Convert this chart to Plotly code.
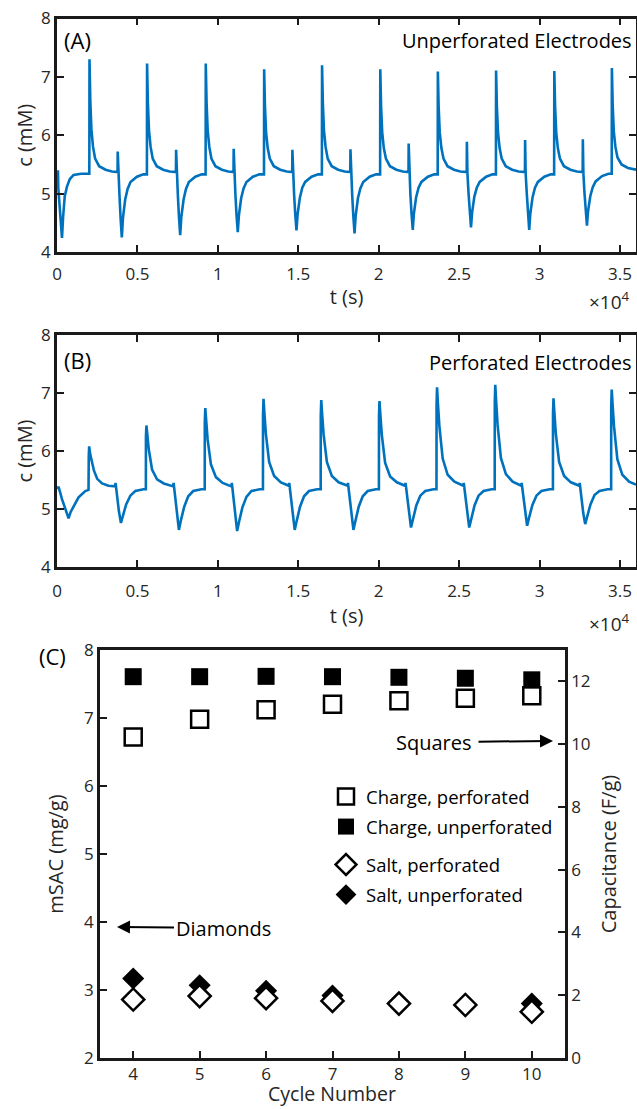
import plotly.graph_objects as go

W, H = 637, 1109
def fx(p): return p / W
def fy(p): return 1 - p / H

FONT = "Open Sans"
BLUE = "#0072BD"
AX = "#1a1a1a"
TXT = "#262626"

# ---------------- Panel A: unperforated electrodes (t in s, c in mM) ----------------
t_A = [0, 60, 80, 200, 310, 380, 480, 620, 800, 1030, 1500, 2010,
       2020, 2070, 2140, 2240, 2370, 2620, 3020, 3420, 3765, 3775, 3810, 3880, 3950, 4030, 4100, 4240, 4390, 4570, 4970, 5370, 5590,
       5600, 5650, 5720, 5820, 5950, 6200, 6600, 7000, 7395, 7405, 7440, 7510, 7580, 7660, 7730, 7870, 8020, 8200, 8600, 9000, 9240,
       9250, 9300, 9370, 9470, 9600, 9850, 10250, 10650, 10975, 10985, 11020, 11090, 11160, 11240, 11310, 11450, 11600, 11780, 12180, 12580, 12870,
       12880, 12930, 13000, 13100, 13230, 13480, 13880, 14280, 14625, 14635, 14670, 14740, 14810, 14890, 14960, 15100, 15250, 15430, 15830, 16230, 16470,
       16480, 16530, 16600, 16700, 16830, 17080, 17480, 17880, 18235, 18245, 18280, 18350, 18420, 18500, 18570, 18710, 18860, 19040, 19440, 19840, 20090,
       20100, 20150, 20220, 20320, 20450, 20700, 21100, 21500, 21855, 21865, 21900, 21970, 22040, 22120, 22190, 22330, 22480, 22660, 23060, 23460, 23670,
       23680, 23730, 23800, 23900, 24030, 24280, 24680, 25080, 25475, 25485, 25520, 25590, 25660, 25740, 25810, 25950, 26100, 26280, 26680, 27080, 27290,
       27300, 27350, 27420, 27520, 27650, 27900, 28300, 28700, 29095, 29105, 29140, 29210, 29280, 29360, 29430, 29570, 29720, 29900, 30300, 30700, 30910,
       30920, 30970, 31040, 31140, 31270, 31520, 31920, 32320, 32685, 32695, 32730, 32800, 32870, 32950, 33020, 33160, 33310, 33490, 33890, 34290, 34490,
       34500, 34550, 34620, 34720, 34850, 35100, 35500, 36000]
c_A = [5.38, 5.38, 5.10, 4.60, 4.24, 4.60, 4.95, 5.12, 5.25, 5.32, 5.34, 5.34,
       7.30, 6.60, 6.10, 5.80, 5.60, 5.47, 5.41, 5.38, 5.37, 5.72, 5.32, 5.00, 4.60, 4.25, 4.58, 4.90, 5.08, 5.20, 5.29, 5.33, 5.33,
       7.23, 6.56, 6.08, 5.80, 5.60, 5.47, 5.41, 5.38, 5.37, 5.75, 5.32, 5.00, 4.62, 4.29, 4.60, 4.90, 5.08, 5.20, 5.29, 5.33, 5.33,
       7.23, 6.56, 6.08, 5.80, 5.60, 5.47, 5.41, 5.38, 5.37, 5.77, 5.32, 5.00, 4.64, 4.34, 4.63, 4.92, 5.09, 5.20, 5.29, 5.33, 5.33,
       7.13, 6.50, 6.05, 5.78, 5.60, 5.47, 5.41, 5.38, 5.37, 5.75, 5.32, 5.00, 4.66, 4.37, 4.65, 4.93, 5.10, 5.20, 5.29, 5.33, 5.33,
       7.20, 6.55, 6.08, 5.80, 5.60, 5.47, 5.41, 5.38, 5.37, 5.76, 5.32, 5.00, 4.63, 4.32, 4.62, 4.92, 5.09, 5.20, 5.29, 5.33, 5.33,
       7.13, 6.50, 6.05, 5.78, 5.60, 5.47, 5.41, 5.38, 5.37, 5.86, 5.34, 5.00, 4.67, 4.38, 4.66, 4.94, 5.10, 5.20, 5.29, 5.33, 5.33,
       7.09, 6.48, 6.04, 5.78, 5.60, 5.47, 5.41, 5.38, 5.37, 5.89, 5.34, 5.00, 4.69, 4.42, 4.68, 4.95, 5.10, 5.20, 5.29, 5.33, 5.33,
       7.11, 6.49, 6.05, 5.78, 5.60, 5.47, 5.41, 5.38, 5.37, 5.92, 5.34, 5.00, 4.67, 4.38, 4.66, 4.94, 5.10, 5.20, 5.29, 5.33, 5.33,
       7.10, 6.49, 6.05, 5.78, 5.60, 5.47, 5.41, 5.38, 5.37, 5.93, 5.34, 5.00, 4.70, 4.45, 4.70, 4.96, 5.11, 5.21, 5.30, 5.34, 5.34,
       7.15, 6.52, 6.06, 5.80, 5.62, 5.50, 5.44, 5.41]

# ---------------- Panel B: perforated electrodes ----------------
t_B = [0, 100, 310, 500, 620, 720, 850, 1030, 1340, 1760, 1960,
       1975, 2000, 2060, 2150, 2300, 2500, 2800, 3200, 3620, 3640, 3730, 3850, 3975, 4100, 4300, 4560, 4870, 5380, 5525,
       5530, 5560, 5610, 5705, 5910, 6220, 6640, 7230, 7250, 7340, 7460, 7580, 7700, 7910, 8160, 8470, 8980, 9185,
       9190, 9220, 9270, 9365, 9570, 9880, 10300, 10850, 10870, 10960, 11080, 11200, 11320, 11530, 11780, 12090, 12600, 12805,
       12810, 12840, 12890, 12985, 13190, 13500, 13920, 14420, 14440, 14530, 14660, 14780, 14900, 15110, 15360, 15670, 16180, 16395,
       16400, 16430, 16480, 16575, 16780, 17090, 17510, 18070, 18090, 18180, 18310, 18430, 18550, 18760, 19010, 19320, 19830, 20015,
       20020, 20050, 20100, 20195, 20400, 20710, 21130, 21650, 21670, 21760, 21890, 22010, 22130, 22340, 22590, 22900, 23410, 23595,
       23600, 23630, 23680, 23775, 23980, 24290, 24710, 25270, 25290, 25380, 25510, 25630, 25750, 25960, 26210, 26520, 27030, 27215,
       27220, 27250, 27300, 27395, 27600, 27910, 28330, 28870, 28890, 28980, 29110, 29230, 29350, 29560, 29810, 30120, 30630, 30835,
       30840, 30870, 30920, 31015, 31220, 31530, 31950, 32480, 32500, 32590, 32720, 32840, 32960, 33170, 33420, 33730, 34240, 34455,
       34460, 34490, 34540, 34635, 34840, 35150, 35570, 36000]
c_B = [5.35, 5.38, 5.17, 5.00, 4.92, 4.84, 4.95, 5.05, 5.20, 5.31, 5.33,
       5.90, 6.08, 5.95, 5.84, 5.66, 5.52, 5.44, 5.40, 5.39, 5.45, 5.22, 4.96, 4.76, 4.89, 5.08, 5.23, 5.31, 5.34, 5.34,
       6.25, 6.44, 6.30, 6.03, 5.68, 5.51, 5.44, 5.39, 5.45, 5.22, 4.90, 4.64, 4.80, 5.04, 5.22, 5.31, 5.34, 5.34,
       6.50, 6.74, 6.55, 6.20, 5.77, 5.55, 5.45, 5.39, 5.45, 5.21, 4.88, 4.62, 4.78, 5.03, 5.21, 5.31, 5.34, 5.34,
       6.63, 6.90, 6.68, 6.30, 5.81, 5.57, 5.46, 5.40, 5.45, 5.22, 4.89, 4.64, 4.79, 5.04, 5.22, 5.31, 5.34, 5.34,
       6.61, 6.88, 6.66, 6.29, 5.81, 5.57, 5.46, 5.40, 5.45, 5.22, 4.89, 4.64, 4.79, 5.04, 5.22, 5.31, 5.34, 5.34,
       6.60, 6.86, 6.65, 6.28, 5.80, 5.56, 5.46, 5.40, 5.45, 5.23, 4.91, 4.68, 4.82, 5.06, 5.23, 5.31, 5.34, 5.34,
       6.80, 7.10, 6.84, 6.43, 5.87, 5.59, 5.47, 5.40, 5.45, 5.23, 4.91, 4.68, 4.82, 5.06, 5.23, 5.31, 5.34, 5.34,
       6.84, 7.14, 6.88, 6.45, 5.88, 5.60, 5.47, 5.40, 5.45, 5.23, 4.92, 4.71, 4.85, 5.07, 5.23, 5.31, 5.34, 5.34,
       6.64, 6.91, 6.69, 6.30, 5.81, 5.57, 5.46, 5.40, 5.45, 5.23, 4.93, 4.74, 4.88, 5.08, 5.24, 5.31, 5.34, 5.34,
       6.77, 7.06, 6.82, 6.42, 5.86, 5.59, 5.47, 5.42]

# ---------------- Panel C ----------------
cycles = [4, 5, 6, 7, 8, 9, 10]
cap_perf = [10.23, 10.79, 11.10, 11.27, 11.38, 11.46, 11.54]      # F/g, right axis
cap_unperf = [12.15, 12.15, 12.16, 12.15, 12.13, 12.10, 12.05]    # F/g, right axis
salt_perf = [2.86, 2.91, 2.88, 2.84, 2.80, 2.78, 2.68]            # mg/g, left axis
salt_unperf = [3.17, 3.07, 2.99, 2.92, 2.81, 2.78, 2.80]          # mg/g, left axis

t_tickvals = [0, 5000, 10000, 15000, 20000, 25000, 30000, 35000]
t_ticktext = ["0", "0.5", "1", "1.5", "2", "2.5", "3", "3.5"]

fig = go.Figure()
fig.add_trace(go.Scatter(x=t_A, y=c_A, mode="lines", line=dict(color=BLUE, width=2.6),
                         xaxis="x", yaxis="y", showlegend=False))
fig.add_trace(go.Scatter(x=t_B, y=c_B, mode="lines", line=dict(color=BLUE, width=2.6),
                         xaxis="x2", yaxis="y2", showlegend=False))

fig.add_trace(go.Scatter(x=cycles, y=cap_perf, mode="markers", name="Charge, perforated",
                         marker=dict(symbol="square-open", size=17, color="black", line=dict(width=2.5, color="black")),
                         xaxis="x3", yaxis="y4", legend="legend", legendgroup="a"))
fig.add_trace(go.Scatter(x=cycles, y=cap_unperf, mode="markers", name="Charge, unperforated",
                         marker=dict(symbol="square", size=17, color="black", line=dict(width=0)),
                         xaxis="x3", yaxis="y4", legend="legend", legendgroup="b"))
fig.add_trace(go.Scatter(x=cycles, y=salt_unperf, mode="markers", name="Salt, unperforated",
                         marker=dict(symbol="diamond", size=17, color="black", line=dict(width=0)),
                         xaxis="x3", yaxis="y3", legend="legend2", legendgroup="d", legendrank=2))
fig.add_trace(go.Scatter(x=cycles, y=salt_perf, mode="markers", name="Salt, perforated",
                         marker=dict(symbol="diamond", size=17, color="white", line=dict(width=2.5, color="black")),
                         xaxis="x3", yaxis="y3", legend="legend2", legendgroup="c", legendrank=1))

tickfont = dict(family=FONT, size=17, color=TXT)
titlefont = dict(family=FONT, size=20, color=TXT)

def xax(domain, anchor, rng, **kw):
    d = dict(domain=domain, anchor=anchor, range=rng, showline=True, linecolor=AX, linewidth=2.5,
             ticks="inside", ticklen=7, tickwidth=2, tickcolor=AX, tickfont=tickfont,
             showgrid=False, zeroline=False, automargin=False)
    d.update(kw)
    return d

xdomAB = [fx(57), fx(636)]
fig.update_layout(
    width=W, height=H, margin=dict(l=0, r=0, t=0, b=0, autoexpand=False),
    paper_bgcolor="white", plot_bgcolor="white",
    xaxis=xax(xdomAB, "y", [0, 36000], tickvals=t_tickvals, ticktext=t_ticktext, mirror="ticks",
              ticklabelstandoff=5, title=dict(text="t (s)", font=titlefont, standoff=6)),
    yaxis=xax([fy(252), fy(18.5)], "x", [4, 8], tickvals=[4, 5, 6, 7, 8], mirror="ticks",
              title=dict(text="c (mM)", font=titlefont, standoff=4)),
    xaxis2=xax(xdomAB, "y2", [0, 36000], tickvals=t_tickvals, ticktext=t_ticktext, mirror="ticks",
               ticklabelstandoff=7, title=dict(text="t (s)", font=titlefont, standoff=8)),
    yaxis2=xax([fy(567), fy(335)], "x2", [4, 8], tickvals=[4, 5, 6, 7, 8], mirror="ticks",
               title=dict(text="c (mM)", font=titlefont, standoff=4)),
    xaxis3=xax([fx(100), fx(565)], "y3", [3.5, 10.5], tickvals=cycles, mirror=True,
               ticklabelstandoff=-1),
    yaxis3=xax([fy(1058), fy(650)], "x3", [2, 8], tickvals=[2, 3, 4, 5, 6, 7, 8],
               title=dict(text="mSAC (mg/g)", font=titlefont, standoff=16)),
    yaxis4=xax([fy(1058), fy(650)], "x3", [0, 13], tickvals=[0, 2, 4, 6, 8, 10, 12],
               overlaying="y3", side="right",
               title=dict(text="Capacitance (F/g)", font=titlefont, standoff=13)),
    legend=dict(x=fx(326), y=fy(778), xanchor="left", yanchor="top", bgcolor="rgba(0,0,0,0)",
                font=dict(family=FONT, size=18.5, color="black"), itemsizing="trace",
                traceorder="grouped", tracegroupgap=3),
    legend2=dict(x=fx(326), y=fy(846), xanchor="left", yanchor="top", bgcolor="rgba(0,0,0,0)",
                 font=dict(family=FONT, size=18.5, color="black"), itemsizing="trace",
                 traceorder="grouped", tracegroupgap=3),
)

ann = []
ann.append(dict(text="(A)", x=fx(62), y=fy(40), xref="paper", yref="paper", xanchor="left", yanchor="middle",
                showarrow=False, font=dict(family=FONT, size=22, color="black")))
ann.append(dict(text="(B)", x=fx(62), y=fy(360), xref="paper", yref="paper", xanchor="left", yanchor="middle",
                showarrow=False, font=dict(family=FONT, size=22, color="black")))
ann.append(dict(text="(C)", x=fx(37), y=fy(656), xref="paper", yref="paper", xanchor="left", yanchor="middle",
                showarrow=False, font=dict(family=FONT, size=22, color="black")))
ann.append(dict(text="Unperforated Electrodes", x=fx(634), y=fy(40), xref="paper", yref="paper",
                xanchor="right", yanchor="middle", showarrow=False, font=dict(family=FONT, size=20, color="black")))
ann.append(dict(text="Perforated Electrodes", x=fx(634), y=fy(362), xref="paper", yref="paper",
                xanchor="right", yanchor="middle", showarrow=False, font=dict(family=FONT, size=20, color="black")))
for yy in (301, 623):
    ann.append(dict(text="×10<sup>4</sup>", x=fx(632), y=fy(yy), xref="paper", yref="paper",
                    xanchor="right", yanchor="middle", showarrow=False, font=dict(family=FONT, size=19, color=TXT)))
# x-axis title of panel C
ann.append(dict(text="Cycle Number", x=fx(332), y=fy(1108), xref="paper", yref="paper",
                xanchor="center", yanchor="bottom", showarrow=False, borderpad=0,
                font=dict(family=FONT, size=19.5, color=TXT)))
# "Diamonds" label with arrow pointing to the left axis
ann.append(dict(text="Diamonds", x=fx(117), y=fy(927), xref="paper", yref="paper", ax=106, ay=1,
                axref="pixel", ayref="pixel", showarrow=True, arrowhead=2, arrowsize=1.3, arrowwidth=2,
                arrowcolor="black", borderpad=1, font=dict(family=FONT, size=20, color="black")))
# "Squares" label with arrow pointing to the right axis
ann.append(dict(text="Squares", x=fx(553), y=fy(741), xref="paper", yref="paper", ax=-119, ay=1,
                axref="pixel", ayref="pixel", showarrow=True, arrowhead=2, arrowsize=1.3, arrowwidth=2,
                arrowcolor="black", borderpad=6, font=dict(family=FONT, size=20, color="black")))
fig.update_layout(annotations=ann)

fig.write_html("out.html", config={"displayModeBar": False},
               post_script="document.body.style.margin='0';document.body.style.overflow='hidden';")
